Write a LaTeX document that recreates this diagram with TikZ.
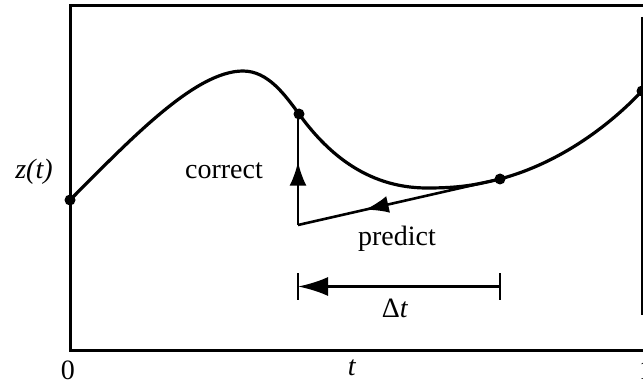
\documentclass[tikz,border=0pt]{standalone}
\usepackage{fontspec}
\setmainfont{Liberation Serif}
\usetikzlibrary{arrows.meta,decorations.markings}
\begin{document}
\begin{tikzpicture}[x=0.5pt,y=-0.5pt,
  thickline/.style={line width=1.6pt},
  framel/.style={line width=1.5pt},
  dotnode/.style={circle,fill=black,inner sep=0pt,minimum size=5.5pt},
  lbl/.style={font=\fontsize{14}{16}\selectfont,inner sep=0pt},
  midarrow/.style={postaction={decorate,decoration={markings,
     mark=at position #1 with {\arrow{Latex[length=12pt,width=8.5pt]}}}}}
]
\useasboundingbox (0,0) rectangle (643,385);
% frame
\draw[framel] (643,6) -- (70,6) -- (70,350) -- (643,350);
\draw[line width=0.6pt] (642,17) -- (642,315);
% dots
\node[dotnode] (p0) at (70,200) {};
\node[dotnode] (p1) at (299,114) {};
\node[dotnode] (p2) at (500,179) {};
\node[dotnode] (p3) at (642,91) {};
\coordinate (pk) at (243,71);
\coordinate (mn) at (427,188);
% curve
\draw[thickline] (p0.center) .. controls (130,140) and (195,71) .. (pk)
  .. controls (268,71) and (285,95) .. (p1.center)
  .. controls (325,150) and (365,188) .. (mn)
  .. controls (460,188) and (475,185) .. (p2.center)
  .. controls (560,163) and (610,125) .. (p3.center);
\coordinate (c1) at (298,225);
\coordinate (c2) at (298,114);
% predict and correct
\draw[line width=1.3pt,midarrow=0.67] (p2.center) -- (c1);
\draw[line width=1.3pt,midarrow=0.57] (c1) -- (c2);
% delta t bracket
\coordinate (ta1) at (298,273);
\coordinate (tb1) at (298,300);
\coordinate (ta2) at (500,273);
\coordinate (tb2) at (500,300);
\coordinate (m1) at (298,286.5);
\coordinate (m2) at (500,286.5);
\draw[line width=1.3pt] (ta1) -- (tb1);
\draw[line width=1.3pt] (ta2) -- (tb2);
\draw[line width=1.3pt,-{Latex[length=15pt,width=9.5pt]}] (m2) -- (m1);
% labels
\node[lbl] (zt) at (34,172) {\textit{z(t)}};
\node[lbl] (cor) at (224,171) {correct};
\node[lbl] (pre) at (397,239) {predict};
\node[lbl] (dt) at (395,308) {Δ\textit{t}};
\node[lbl] (l0) at (68,370) {0};
\node[lbl] (lt) at (352,368) {\textit{t}};
\node[lbl] (l1) at (646,370) {1};
\end{tikzpicture}
\end{document}
